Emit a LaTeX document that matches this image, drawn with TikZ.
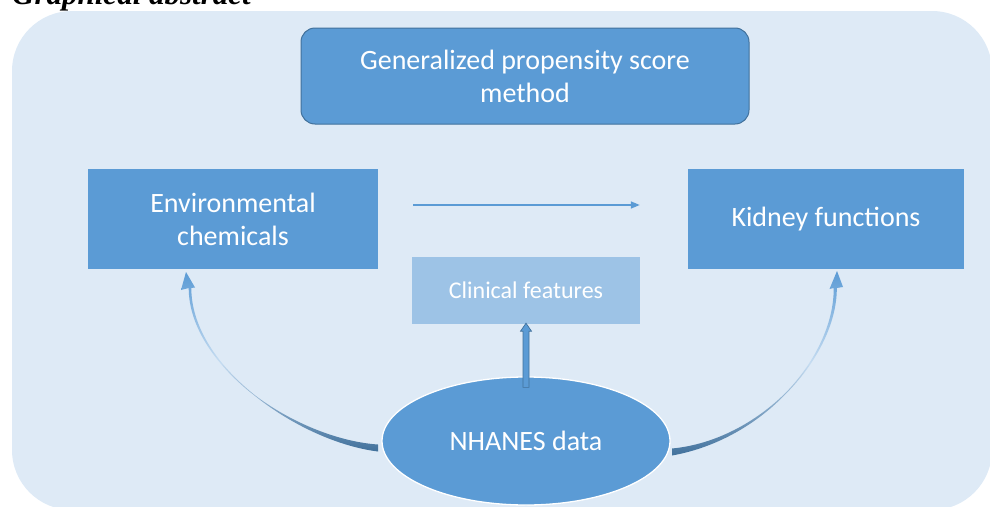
\documentclass[tikz,border=0pt]{standalone}
\usepackage{fontspec}
\setmainfont{Carlito}
\newfontfamily\tnr{Liberation Serif}
\usetikzlibrary{shapes.geometric,arrows.meta,calc}
\definecolor{bgblue}{HTML}{DEEAF6}
\definecolor{boxblue}{HTML}{5B9BD5}
\definecolor{lightbox}{HTML}{9DC3E6}
\definecolor{darkblue}{HTML}{41719C}
\definecolor{paleblue}{HTML}{C5DCF1}
\tikzset{
  bigtext/.style={font=\fontsize{28}{33}\selectfont, text=white},
  bluebox/.style={fill=boxblue, draw=none, inner sep=0pt, align=center, bigtext},
  curvearrow/.style={top color=boxblue, bottom color=darkblue, middle color=paleblue, draw=none},
}
\begin{document}
\begin{tikzpicture}[x=1pt,y=-1pt]
\useasboundingbox (0,0) rectangle (990,506);
\clip (0,0) rectangle (990,506);
% background panel
\fill[bgblue, rounded corners=60pt] (12,11) rectangle (992,510);
% title (cut off at top, as in the reference)
\node[anchor=base west, inner sep=0pt, font=\tnr\bfseries\itshape\fontsize{31}{35}\selectfont] (ga) at (12,5) {Graphical abstract};

% main nodes
\node[bluebox, draw=darkblue, line width=1pt, rounded corners=14pt,
      minimum width=448pt, minimum height=96pt] (gps) at (525,76) {Generalized propensity score\\method};
\node[bluebox, minimum width=290pt, minimum height=100pt] (env) at (233,219) {Environmental\\chemicals};
\node[bluebox, minimum width=276pt, minimum height=100pt] (kid) at (826,219) {Kidney functions};
\node[fill=lightbox, minimum width=228pt, minimum height=67pt, inner sep=0pt, text=white,
      font=\fontsize{24}{29}\selectfont] (clin) at (526,290.5) {Clinical features};

% curved tapered arrows (drawn beneath the ellipse)
\shade[curvearrow]
  (378,444.5) .. controls (340,442) and (292.5,423.8) .. (254.9,395.2)
  .. controls (218.2,365.9) and (191.3,327.5) .. (191.3,288)
  -- (195,287.5) -- (186,272) -- (181,290) -- (188.7,288)
  .. controls (188.7,327.5) and (216.8,366.6) .. (254.6,395.6)
  .. controls (291.5,425.2) and (338,446.5) .. (378,451.5) -- cycle;
\shade[curvearrow]
  (672,448.5) .. controls (715,444.5) and (756.3,422.3) .. (786.6,391.8)
  .. controls (816,360.9) and (834,322.5) .. (833.7,288)
  -- (829.5,289) -- (837,271) -- (843,287) -- (836.8,288)
  .. controls (837,322.5) and (817.5,361.6) .. (787.2,392.4)
  .. controls (757.7,423.7) and (717,447.5) .. (672,455.5) -- cycle;

% ellipse
\node[ellipse, fill=boxblue, draw=white, line width=1.3pt, minimum width=288pt,
      minimum height=128pt, inner sep=0pt, bigtext] (nh) at (526,441) {NHANES data};

% horizontal arrow
\coordinate (h1) at ($(env.east)+(35,-14)$);
\coordinate (h2) at ($(kid.west)+(-48,-14)$);
\draw[boxblue, line width=1.5pt, -{Triangle[length=9pt,width=7pt]}] (h1) -- (h2);

% vertical block arrow
\coordinate (vt) at (clin.south);
\coordinate (vb) at ($(nh.north)+(0,11)$);
\draw[darkblue, fill=boxblue, line width=0.7pt]
  ($(vb)+(-3,0)$) -- ($(vt)+(-3,7)$) -- ($(vt)+(-5.5,7)$) -- ($(vt)+(0,-1)$)
  -- ($(vt)+(5.5,7)$) -- ($(vt)+(3,7)$) -- ($(vb)+(3,0)$) -- cycle;
\end{tikzpicture}
\end{document}
